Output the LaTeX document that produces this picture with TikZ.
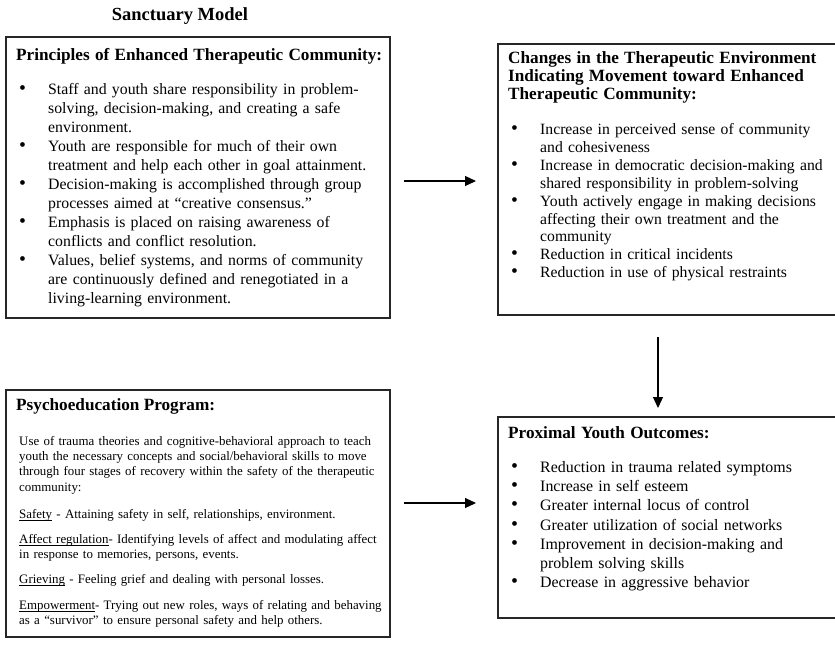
\documentclass[tikz,border=0pt]{standalone}
\usepackage{fontspec}
\setmainfont{Liberation Serif}
\usetikzlibrary{arrows.meta}
\newcommand{\headfont}{\fontsize{17.2}{19}\selectfont\bfseries}
\newcommand{\ulword}[1]{\leavevmode\setbox0=\hbox{#1}\rlap{\rule[-2.2pt]{\wd0}{0.7pt}}\box0\relax}
\newcommand{\bitem}[1]{\par\hangindent=32pt\hangafter=1\noindent\hspace*{3pt}\makebox[29pt][l]{\scalebox{1.25}{\textbullet}}#1\par}

\begin{document}
\begin{tikzpicture}[x=1pt,y=-1pt,
	panel/.style={draw=black!85,line width=1.2pt,anchor=north west,inner sep=0pt,outer sep=0pt},
	txt/.style={anchor=base west,inner sep=0pt,align=left,text width=#1},
	flow/.style={line width=1.1pt,-{Triangle[length=11pt,width=10pt]}}]
	\useasboundingbox (0,0) rectangle (835,649);
	\clip (0,0) rectangle (835,649);
	\node[font=\fontsize{18.5}{20}\selectfont\bfseries,anchor=base,inner sep=0pt] (title) at (180,20) {Sanctuary Model};
	\node[panel,minimum width=384pt,minimum height=281pt] (principles) at (6,37) {};
	\node[panel,minimum width=342pt,minimum height=271pt] (changes) at (498,44) {};
	\node[panel,minimum width=384pt,minimum height=247pt] (psycho) at (6,390) {};
	\node[panel,minimum width=342pt,minimum height=201pt] (outcomes) at (498,417) {};
	\node[txt=380pt,font=\fontsize{15.8}{19}\selectfont] (principlestext) at (16,60) {{\headfont Principles of Enhanced Therapeutic Community:}\par\vspace{15.5pt}
		\bitem{Staff and youth share responsibility in problem-\newline solving, decision-making, and creating a safe\newline environment.}
		\bitem{Youth are responsible for much of their own\newline treatment and help each other in goal attainment.}
		\bitem{Decision-making is accomplished through group\newline processes aimed at ``creative consensus.''}
		\bitem{Emphasis is placed on raising awareness of\newline conflicts and conflict resolution.}
		\bitem{Values, belief systems, and norms of community\newline are continuously defined and renegotiated in a\newline living-learning environment.}};
	\node[txt=330pt,font=\fontsize{15.7}{17.9}\selectfont] (changestext) at (508,63.5) {{\fontsize{17.2}{18}\selectfont\bfseries Changes in the Therapeutic Environment\newline Indicating Movement toward Enhanced\newline Therapeutic Community:\par}\vspace{17.1pt}
		\bitem{Increase in perceived sense of community\newline and cohesiveness}
		\bitem{Increase in democratic decision-making and\newline shared responsibility in problem-solving}
		\bitem{Youth actively engage in making decisions\newline affecting their own treatment and the\newline community}
		\bitem{Reduction in critical incidents}
		\bitem{Reduction in use of physical restraints}};
	\node[txt=380pt,font=\fontsize{12.9}{15.2}\selectfont] (psychotext) at (16,410) {{\headfont Psychoeducation Program:}\par\vspace{20.3pt}
		{\leftskip=3pt Use of trauma theories and cognitive-behavioral approach to teach\newline youth the necessary concepts and social/behavioral skills to move\newline through four stages of recovery within the safety of the therapeutic\newline community:\par\vspace{12pt}
		\ulword{Safety} - Attaining safety in self, relationships, environment.\par\vspace{10pt}
		\ulword{Affect regulation}- Identifying levels of affect and modulating affect\newline in response to memories, persons, events.\par\vspace{10pt}
		\ulword{Grieving} - Feeling grief and dealing with personal losses.\par\vspace{10pt}
		\ulword{Empowerment}- Trying out new roles, ways of relating and behaving\newline as a ``survivor'' to ensure personal safety and help others.\par}};
	\node[txt=330pt,font=\fontsize{15.9}{19.2}\selectfont] (outcomestext) at (508,438) {{\headfont Proximal Youth Outcomes:}\par\vspace{15.3pt}
		\bitem{Reduction in trauma related symptoms}
		\bitem{Increase in self esteem}
		\bitem{Greater internal locus of control}
		\bitem{Greater utilization of social networks}
		\bitem{Improvement in decision-making and\newline problem solving skills}
		\bitem{Decrease in aggressive behavior}};
	\draw[flow,shorten <=14pt,shorten >=22pt] ([yshift=-3.5pt]principles.east) -- ([yshift=-1.5pt]changes.west);
	\draw[flow,shorten <=14pt,shorten >=22pt] ([yshift=10.5pt]psycho.east) -- ([yshift=14.5pt]outcomes.west);
	\draw[flow,shorten <=22pt,shorten >=9pt] ([xshift=-11pt]changes.south) -- ([xshift=-11pt]outcomes.north);
\end{tikzpicture}
\end{document}
